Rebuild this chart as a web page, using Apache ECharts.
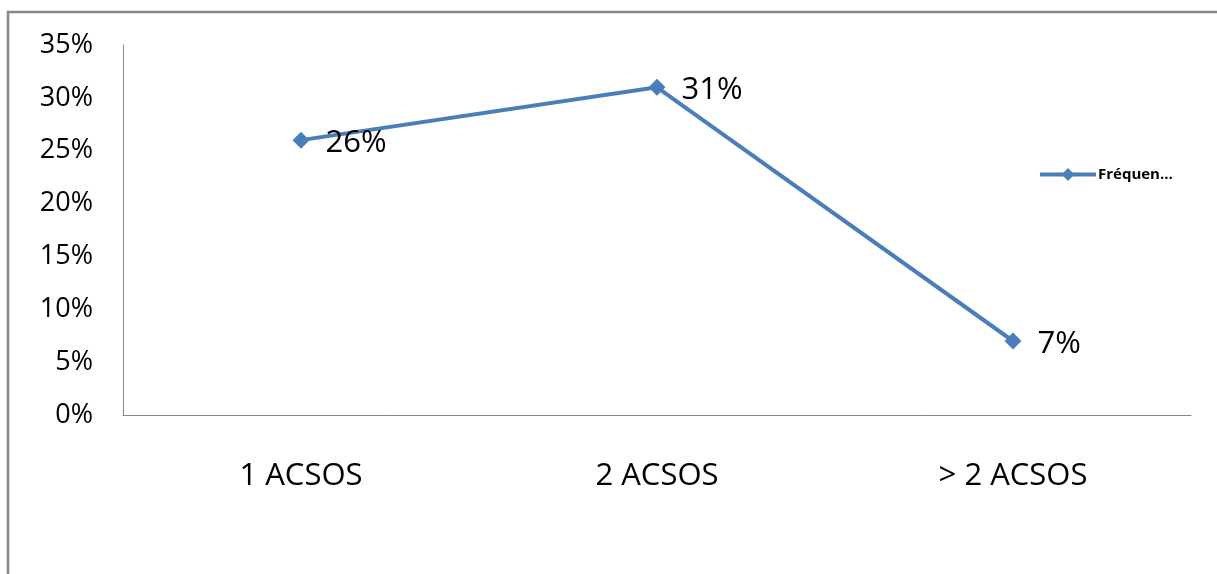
<!DOCTYPE html>
<html>
<head>
<meta charset="utf-8">
<script src="https://cdn.jsdelivr.net/npm/echarts@6/dist/echarts.min.js"></script>
<style>
  html, body { margin: 0; padding: 0; background: #fff; }
  #chart { width: 1217px; height: 574px; }
</style>
</head>
<body>
<div id="chart"></div>
<script>
// categories and values (fractions)
var categories = ["1 ACSOS", "2 ACSOS", "> 2 ACSOS"];
var frequence = [0.26, 0.31, 0.07];
var seriesName = "Fréquen...";

var myChart = echarts.init(document.getElementById("chart"));

var option = {
  animation: false,
  backgroundColor: "#ffffff",
  textStyle: { fontFamily: "Open Sans" },
  // outer frame, only left + top visible (cropped)
  graphic: [
    {
      type: "rect",
      shape: { x: 8, y: 12, width: 1400, height: 800 },
      style: { fill: "none", stroke: "#878787", lineWidth: 2.5 },
      silent: true
    }
  ],
  grid: { left: 123, top: 45, right: 26, bottom: 159 },
  legend: {
    data: [seriesName],
    left: 1033,
    top: 162,
    itemWidth: 56,
    itemHeight: 16,
    itemGap: 0,
    lineStyle: { width: 4 },
    textStyle: { fontSize: 15, fontWeight: "bold", color: "#000", fontFamily: "Open Sans", padding: [0, 0, 0, -3] }
  },
  xAxis: {
    type: "category",
    data: categories,
    axisLine: { lineStyle: { color: "#868686", width: 1 } },
    axisTick: { show: false },
    axisLabel: { fontSize: 31, color: "#000", margin: 46 }
  },
  yAxis: {
    type: "value",
    min: 0,
    max: 0.35,
    interval: 0.05,
    splitLine: { show: false },
    axisLine: { show: true, lineStyle: { color: "#868686", width: 1 } },
    axisTick: { show: false },
    axisLabel: {
      fontSize: 27,
      color: "#000",
      margin: 30,
      formatter: function (v) { return Math.round(v * 100) + "%"; }
    }
  },
  series: [
    {
      name: seriesName,
      type: "line",
      data: frequence,
      symbol: "diamond",
      symbolSize: 17,
      lineStyle: { color: "#4a7ebb", width: 4 },
      itemStyle: { color: "#4a7ebb" },
      label: {
        show: true,
        position: "right",
        distance: 16,
        offset: [0, 3],
        fontSize: 31,
        color: "#000",
        formatter: function (p) { return Math.round(p.value * 100) + "%"; }
      }
    }
  ]
};

myChart.setOption(option);
</script>
</body>
</html>
